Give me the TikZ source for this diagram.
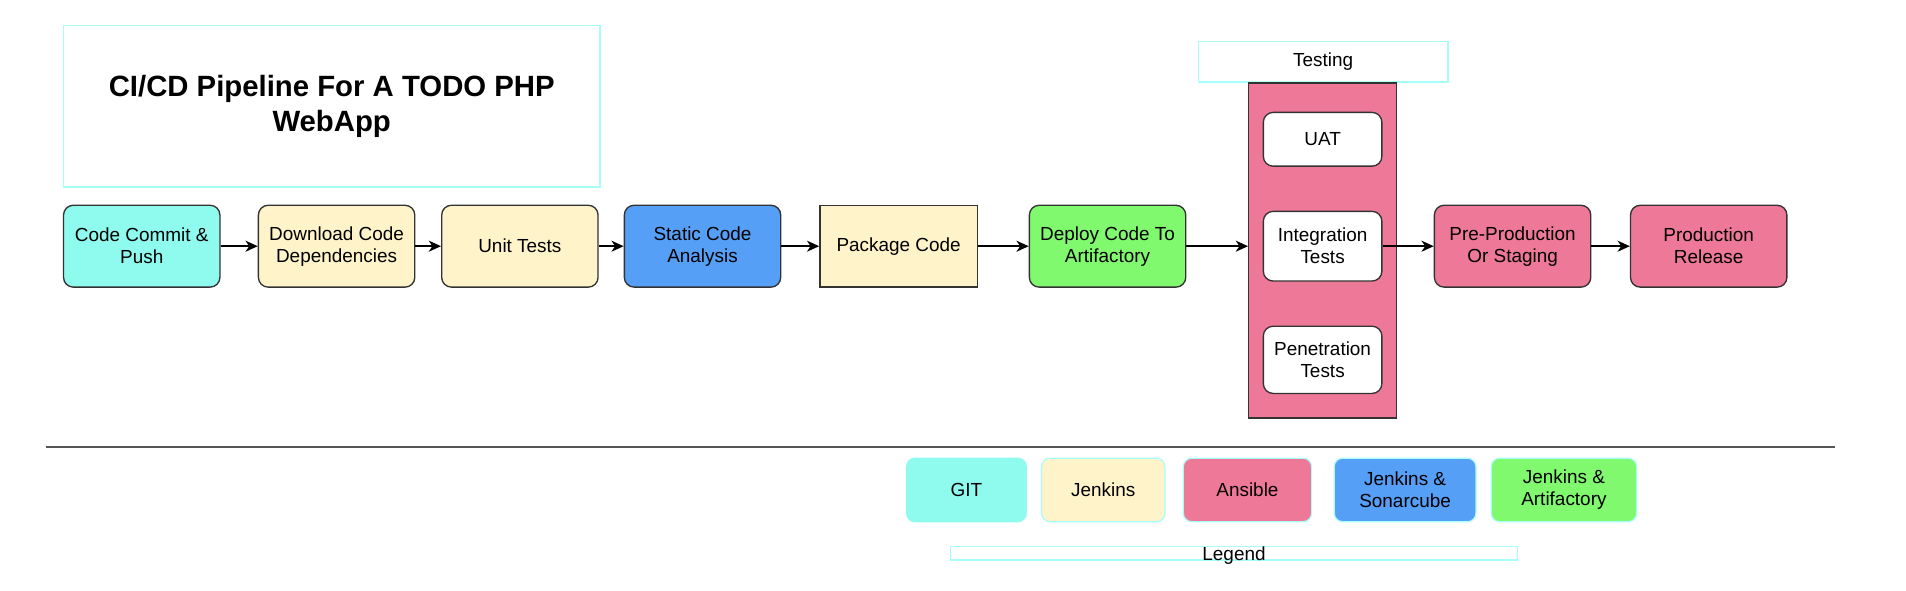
\documentclass[tikz,border=0pt]{standalone}
\usepackage{fontspec}
\setmainfont{Liberation Sans}
\usetikzlibrary{arrows.meta}
\definecolor{cyanF}{HTML}{8FFBEF}
\definecolor{yelF}{HTML}{FFF3CA}
\definecolor{blueF}{HTML}{559FF7}
\definecolor{greenF}{HTML}{80F96E}
\definecolor{pinkF}{HTML}{EE7898}
\definecolor{bord}{HTML}{333333}
\definecolor{cyanB}{HTML}{A6FFF9}
\definecolor{rule}{HTML}{555555}
\begin{document}
\begin{tikzpicture}[x=1pt,y=-1pt,
  txt/.style={font=\fontsize{15.5}{18}\selectfont, align=center, inner sep=0pt, text=black},
  stage/.style={txt, draw=bord, line width=1.1pt, rounded corners=8pt, minimum width=128pt, minimum height=67pt},
  sqstage/.style={txt, draw=bord, line width=1.1pt, minimum width=129pt, minimum height=67pt},
  sub/.style={stage, fill=white, minimum width=97pt},
  leg/.style={txt, draw=cyanB, line width=1pt, rounded corners=7pt, minimum height=52pt},
  lbl/.style={txt, draw=cyanB, line width=1.2pt},
  arr/.style={-{Stealth[length=10pt,width=9pt,inset=3pt]}, line width=1.3pt, draw=black}
]
\useasboundingbox (0,0) rectangle (1560,483);

% title
\node[lbl, minimum width=439pt, minimum height=132pt, font=\fontsize{24}{29}\selectfont\bfseries] (title) at (271.5,87) {CI/CD Pipeline For A TODO PHP\\WebApp};

% pipeline
\node[stage, fill=cyanF] (n1) at (116,201.5) {Code Commit \&\\Push};
\node[stage, fill=yelF] (n2) at (275.5,201.5) {Download Code\\Dependencies};
\node[stage, fill=yelF] (n3) at (425.5,201.5) {Unit Tests};
\node[stage, fill=blueF] (n4) at (575,201.5) {Static Code\\Analysis};
\node[sqstage, fill=yelF] (n5) at (735.5,201.5) {Package Code};
\node[stage, fill=greenF] (n6) at (906.5,201.5) {Deploy Code To\\Artifactory};

% testing group
\node[lbl, minimum width=204pt, minimum height=33pt] (tlabel) at (1083,50.5) {Testing};
\node[draw=bord, line width=1.1pt, fill=pinkF, minimum width=121pt, minimum height=274pt, inner sep=0pt] (tbox) at (1082.5,205) {};
\node[sub, minimum height=44pt] (uat) at (1082.5,114) {UAT};
\node[sub, minimum height=57pt] (integ) at (1082.5,201.5) {Integration\\Tests};
\node[sub, minimum height=55pt] (pen) at (1082.5,294.5) {Penetration\\Tests};

\node[stage, fill=pinkF] (pre) at (1238,201.5) {Pre-Production\\Or Staging};
\node[stage, fill=pinkF] (prod) at (1398.5,201.5) {Production\\Release};

% connectors
\draw[arr] (n1) -- (n2);
\draw[arr] (n2) -- (n3);
\draw[arr] (n3) -- (n4);
\draw[arr] (n4) -- (n5);
\draw[arr] (n5) -- (n6);
\draw[arr] (n6) -- (n6 -| tbox.west);
\draw[arr] (integ) -- (pre);
\draw[arr] (pre) -- (prod);

% separator
\coordinate (la) at (38,366);
\coordinate (lb) at (1502,366);
\draw[rule, line width=1.5pt] (la) -- (lb);

% legend
\node[leg, fill=cyanF, draw=cyanF, minimum width=98pt] (lgit) at (791,401) {GIT};
\node[leg, fill=yelF, minimum width=101pt] (ljen) at (903,401) {Jenkins};
\node[leg, fill=pinkF, minimum width=105pt] (lans) at (1021,401) {Ansible};
\node[leg, fill=blueF, minimum width=116pt] (lson) at (1150,401) {Jenkins \&\\Sonarcube};
\node[leg, fill=greenF, minimum width=119pt] (lart) at (1280,401) {Jenkins \&\\Artifactory};
\node[draw=cyanB, line width=1.2pt, minimum width=464pt, minimum height=11pt, inner sep=0pt] (legend) at (1010,453) {};
\node[txt] (legendtxt) at ([yshift=-1.5pt]legend.center) {Legend};
\end{tikzpicture}
\end{document}
